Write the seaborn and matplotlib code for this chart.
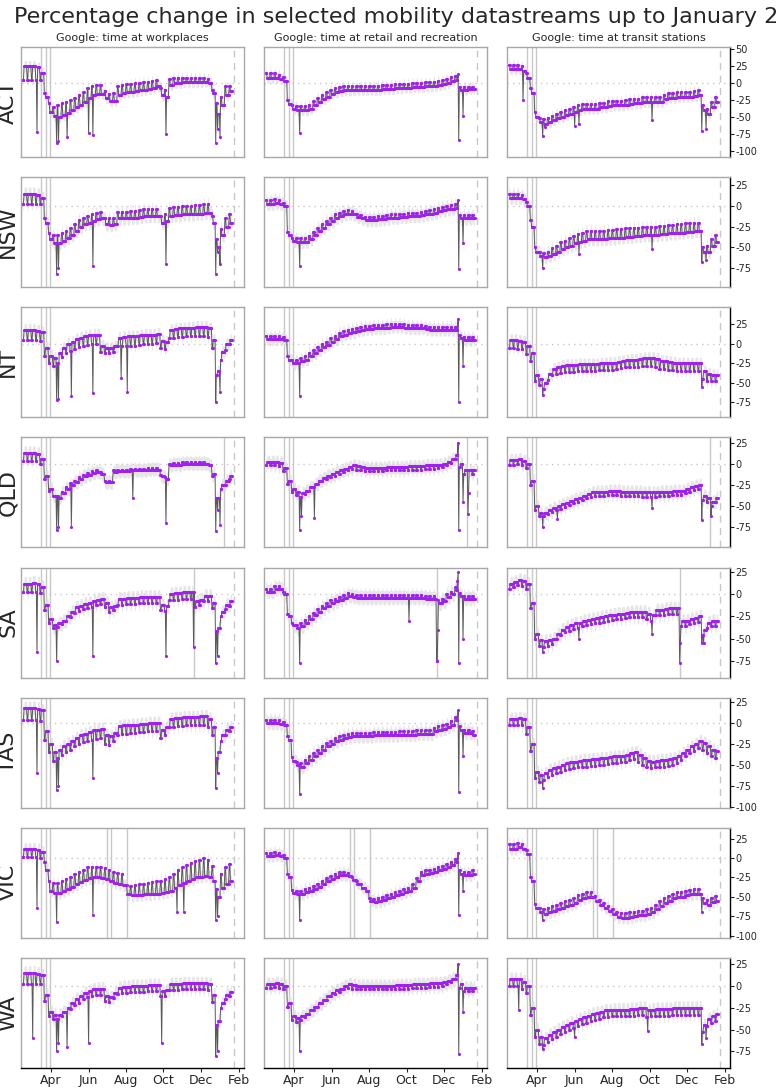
import pandas as pd
import seaborn as sns
import matplotlib.pyplot as plt
import matplotlib.dates as mdates
from matplotlib.ticker import MultipleLocator

sns.set_style("white")
plt.rcParams['font.family'] = ['DejaVu Sans']
plt.rcParams['axes.unicode_minus'] = False

states = ["ACT", "NSW", "NT", "QLD", "SA", "TAS", "VIC", "WA"]
streams = ["Google: time at workplaces",
           "Google: time at retail and recreation",
           "Google: time at transit stations"]

first_day = "2020-02-15"
last_day = "2021-01-20"
interventions = ["2020-03-16", "2020-03-24", "2020-03-30"]
extra_lines = {"VIC": ["2020-07-01", "2020-07-08", "2020-08-02"],
               "SA": ["2020-11-19"],
               "QLD": ["2021-01-08"]}
end_line = "2021-01-24"

# weekly levels; week 0 starts Sat 15 Feb 2020
# *_wd = Mon-Fri level, *_we = Sat-Sun level, *_hol = single-day spikes
act_work_wd = [25, 25, 25, 23, 15, -20, -42, -48, -50, -47,
               -44, -40, -36, -32, -28, -22, -18, -16, -16, -22,
               -27, -26, -17, -15, -14, -13, -12, -11, -10, -9,
               -7, -5, -18, -20, -3, 0, 0, 1, 1, 1,
               1, 1, 2, 0, -15, -45, -32, -18, -12]
act_work_we = [5, 5, 5, 5, 5, -15, -30, -35, -33, -30,
               -28, -25, -22, -18, -14, -8, -5, -3, -3, -12,
               -16, -15, -5, -3, -2, -1, 0, 0, 1, 2,
               3, 4, -8, -10, 6, 8, 8, 8, 8, 8,
               8, 8, 8, 6, -10, -30, -20, -5, -5]
act_work_hol = [("2020-03-09", -72), ("2020-04-10", -88), ("2020-04-13", -85),
                ("2020-04-27", -80), ("2020-06-01", -74), ("2020-06-08", -77),
                ("2020-10-05", -75), ("2020-12-25", -88), ("2020-12-28", -68),
                ("2021-01-01", -80)]
act_retail_wd = [8, 8, 8, 6, 3, -31, -38, -40, -40, -40,
                 -38, -33, -28, -24, -20, -16, -14, -12, -11, -11,
                 -11, -10, -10, -10, -10, -10, -10, -9, -9, -9,
                 -8, -8, -7, -7, -6, -6, -6, -5, -5, -4,
                 -3, -2, 0, 3, 5, -10, -10, -9, -9]
act_retail_we = [14, 14, 14, 12, 9, -25, -32, -34, -34, -34,
                 -32, -27, -22, -18, -14, -10, -8, -6, -5, -5,
                 -5, -4, -4, -4, -4, -4, -4, -3, -3, -3,
                 -2, -2, -1, -1, 0, 0, 0, 1, 1, 2,
                 3, 4, 6, 9, 11, -6, -6, -6, -6]
act_retail_hol = [("2020-04-10", -73), ("2020-12-24", 13), ("2020-12-25", -84),
                  ("2021-01-01", -48)]
act_transit_wd = [20, 20, 20, 18, 8, -15, -50, -58, -60, -58,
                  -55, -52, -50, -47, -45, -42, -40, -38, -38, -38,
                  -38, -36, -36, -34, -33, -33, -33, -32, -31, -30,
                  -30, -28, -28, -28, -28, -28, -24, -22, -22, -21,
                  -20, -20, -20, -19, -18, -40, -45, -35, -28]
act_transit_we = [27, 27, 27, 25, 15, -8, -43, -51, -53, -51,
                  -48, -45, -43, -40, -38, -35, -33, -31, -31, -31,
                  -31, -29, -29, -27, -26, -26, -26, -25, -24, -23,
                  -23, -21, -21, -21, -21, -21, -17, -15, -15, -14,
                  -13, -13, -13, -12, -11, -33, -38, -28, -21]
act_transit_hol = [("2020-03-09", -25), ("2020-04-10", -78), ("2020-04-13", -65),
                   ("2020-06-01", -63), ("2020-06-08", -60), ("2020-10-05", -55),
                   ("2020-12-25", -70), ("2021-01-01", -68)]

nsw_work_wd = [15, 15, 15, 14, 10, -20, -40, -45, -45, -42,
               -38, -35, -30, -25, -22, -20, -18, -16, -15, -22,
               -23, -22, -15, -15, -15, -14, -14, -13, -12, -12,
               -12, -12, -20, -18, -12, -11, -11, -10, -10, -10,
               -9, -9, -8, -8, -20, -50, -35, -25, -20]
nsw_work_we = [3, 3, 3, 3, 2, -15, -32, -35, -35, -33,
               -30, -27, -22, -17, -14, -12, -10, -8, -7, -15,
               -15, -14, -7, -7, -7, -6, -6, -5, -4, -4,
               -4, -4, -12, -10, -2, -1, -1, 0, 0, 0,
               1, 1, 2, 2, -12, -40, -28, -15, -10]
nsw_work_hol = [("2020-04-10", -82), ("2020-04-13", -75), ("2020-06-08", -72),
                ("2020-10-05", -70), ("2020-12-25", -82), ("2020-12-28", -55),
                ("2021-01-01", -70)]
nsw_retail_wd = [3, 3, 4, 3, 0, -35, -42, -43, -43, -43,
                 -40, -35, -30, -26, -22, -18, -14, -12, -10, -9,
                 -10, -13, -15, -17, -17, -17, -16, -16, -15, -14,
                 -14, -13, -13, -12, -12, -12, -11, -10, -9, -8,
                 -6, -5, -4, -3, -2, -15, -15, -15, -15]
nsw_retail_we = [7, 7, 8, 7, 4, -31, -38, -39, -39, -39,
                 -36, -31, -26, -22, -18, -14, -10, -8, -6, -5,
                 -6, -9, -11, -13, -13, -13, -12, -12, -11, -10,
                 -10, -9, -9, -8, -8, -8, -7, -6, -5, -4,
                 -2, -1, 0, 1, 2, -11, -11, -11, -11]
nsw_retail_hol = [("2020-04-10", -72), ("2020-12-24", 7), ("2020-12-25", -76),
                  ("2021-01-01", -45)]
nsw_transit_wd = [10, 10, 10, 8, 0, -25, -55, -60, -62, -60,
                  -58, -55, -52, -50, -48, -45, -43, -42, -40, -40,
                  -40, -40, -40, -39, -39, -38, -38, -37, -37, -36,
                  -36, -35, -35, -35, -35, -34, -34, -33, -33, -32,
                  -32, -31, -31, -30, -30, -55, -55, -48, -43]
nsw_transit_we = [15, 15, 15, 13, 5, -17, -50, -55, -57, -55,
                  -51, -48, -44, -42, -39, -36, -34, -32, -30, -30,
                  -30, -30, -30, -29, -29, -28, -28, -27, -27, -26,
                  -26, -25, -25, -25, -25, -24, -24, -23, -23, -22,
                  -22, -21, -21, -20, -20, -50, -48, -40, -35]
nsw_transit_hol = [("2020-04-10", -75), ("2020-06-08", -58), ("2020-10-05", -52),
                   ("2020-12-25", -68), ("2021-01-01", -65)]

nt_work_wd = [18, 18, 18, 17, 15, -5, -15, -18, -12, -5,
              0, 3, 6, 8, 10, 11, 12, 12, -2, -5,
              -5, -3, 8, 9, 10, 10, 10, 11, 12, 12,
              12, 13, 4, 3, 18, 19, 20, 20, 21, 21,
              22, 22, 22, 20, 5, -35, -10, 0, 5]
nt_work_we = [5, 5, 5, 5, 4, -15, -25, -28, -24, -17,
              -12, -9, -6, -4, -2, -1, 0, 0, -10, -12,
              -12, -10, -3, -2, -2, -2, -2, -1, 0, 0,
              0, 1, -5, -6, 8, 8, 9, 9, 10, 10,
              10, 10, 10, 9, -5, -40, -20, -8, 0]
nt_work_hol = [("2020-04-10", -72), ("2020-04-13", -70), ("2020-05-04", -67),
               ("2020-06-08", -63), ("2020-07-24", -43), ("2020-08-03", -61),
               ("2020-12-25", -75), ("2021-01-01", -62)]
nt_retail_wd = [6, 6, 6, 6, 5, -20, -25, -25, -22, -20,
                -15, -12, -8, -4, -1, 3, 6, 10, 12, 14,
                15, 17, 18, 19, 19, 20, 20, 20, 21, 22,
                22, 22, 21, 20, 20, 20, 20, 19, 18, 18,
                18, 18, 18, 18, 18, 8, 5, 5, 5]
nt_retail_we = [10, 10, 10, 10, 9, -16, -21, -21, -18, -16,
                -11, -8, -4, 0, 3, 7, 10, 14, 16, 18,
                19, 21, 22, 23, 23, 24, 24, 24, 25, 26,
                26, 26, 25, 24, 24, 24, 24, 23, 22, 22,
                22, 22, 22, 22, 22, 12, 9, 9, 9]
nt_retail_hol = [("2020-04-10", -67), ("2020-12-24", 32), ("2020-12-25", -75),
                 ("2021-01-01", -28)]
nt_transit_wd = [5, 5, 4, 3, -3, -12, -40, -45, -50, -38,
                 -32, -30, -28, -27, -27, -27, -26, -26, -26, -26,
                 -26, -25, -25, -24, -24, -23, -22, -21, -20, -20,
                 -19, -18, -18, -18, -19, -22, -22, -23, -24, -25,
                 -25, -25, -25, -25, -25, -35, -38, -40, -40]
nt_transit_we = [-5, -5, -6, -7, -13, -22, -48, -53, -58, -46,
                 -40, -38, -37, -36, -36, -36, -35, -35, -35, -35,
                 -35, -34, -34, -33, -33, -32, -31, -30, -30, -30,
                 -29, -28, -28, -28, -29, -32, -32, -33, -34, -35,
                 -35, -35, -35, -35, -35, -45, -47, -48, -48]
nt_transit_hol = [("2020-04-10", -65), ("2020-12-25", -55)]

qld_work_wd = [13, 13, 13, 12, 5, -15, -30, -38, -40, -35,
               -30, -25, -22, -18, -15, -13, -11, -10, -12, -22,
               -22, -10, -9, -9, -9, -8, -8, -8, -8, -7,
               -7, -7, -15, -18, -2, -1, -1, 0, 0, 0,
               0, 0, 0, -2, -12, -40, -25, -20, -15]
qld_work_we = [3, 3, 3, 3, 0, -18, -32, -38, -38, -33,
               -28, -23, -20, -16, -13, -11, -9, -8, -10, -20,
               -20, -8, -7, -7, -7, -6, -6, -6, -6, -5,
               -5, -5, -13, -16, 0, 1, 1, 2, 2, 2,
               2, 2, 2, 0, -15, -40, -30, -25, -18]
qld_work_hol = [("2020-04-10", -78), ("2020-04-13", -75), ("2020-05-04", -75),
                ("2020-08-12", -40), ("2020-10-05", -70), ("2020-12-25", -80),
                ("2020-12-28", -55), ("2021-01-01", -72)]
qld_retail_wd = [2, 2, 2, 1, -5, -20, -30, -33, -35, -32,
                 -28, -24, -20, -17, -14, -12, -10, -8, -6, -4,
                 -2, -3, -4, -5, -5, -5, -5, -5, -4, -4,
                 -4, -4, -4, -3, -3, -3, -3, -2, -2, -2,
                 -1, 0, 2, 5, 10, 0, -8, -8, -8]
qld_retail_we = [-2, -2, -2, -3, -9, -24, -34, -37, -39, -36,
                 -32, -28, -24, -21, -18, -16, -14, -12, -10, -8,
                 -6, -7, -8, -9, -9, -9, -9, -9, -8, -8,
                 -8, -8, -8, -7, -7, -7, -7, -6, -6, -6,
                 -5, -4, -2, 1, 6, -4, -12, -12, -12]
qld_retail_hol = [("2020-04-10", -78), ("2020-04-13", -62), ("2020-05-04", -64),
                  ("2020-12-24", 25), ("2020-12-25", -78), ("2021-01-01", -45),
                  ("2021-01-09", -60), ("2021-01-10", -35)]
qld_transit_wd = [4, 4, 5, 3, 0, -20, -50, -58, -58, -55,
                  -52, -50, -48, -46, -44, -42, -40, -38, -36, -34,
                  -33, -33, -33, -32, -32, -32, -33, -33, -33, -33,
                  -33, -34, -34, -34, -34, -33, -33, -33, -32, -32,
                  -32, -30, -28, -26, -25, -38, -40, -45, -40]
qld_transit_we = [-1, -1, 0, -2, -5, -25, -55, -62, -62, -60,
                  -57, -55, -53, -51, -49, -47, -45, -43, -41, -39,
                  -38, -38, -38, -37, -37, -37, -38, -38, -38, -38,
                  -38, -39, -39, -39, -39, -38, -38, -38, -37, -37,
                  -37, -35, -33, -31, -30, -43, -45, -50, -45]
qld_transit_hol = [("2020-04-10", -75), ("2020-05-04", -65), ("2020-10-05", -52),
                   ("2020-12-25", -67), ("2021-01-09", -62)]

sa_work_wd = [12, 12, 13, 12, 8, -12, -28, -35, -33, -30,
              -25, -20, -15, -13, -11, -10, -8, -6, -5, -10,
              -15, -13, -5, -5, -4, -4, -4, -3, -3, -3,
              -3, -3, -12, -13, 0, 1, 1, 2, 2, 2,
              -8, -6, -2, -2, -10, -38, -20, -12, -8]
sa_work_we = [2, 2, 3, 2, 1, -18, -32, -38, -37, -34,
              -30, -26, -21, -19, -17, -16, -14, -12, -11, -15,
              -20, -18, -12, -12, -11, -11, -11, -10, -10, -10,
              -10, -10, -18, -19, -7, -6, -6, -5, -5, -5,
              -15, -12, -8, -8, -16, -42, -25, -17, -13]
sa_work_hol = [("2020-03-09", -65), ("2020-04-10", -75), ("2020-06-08", -70),
               ("2020-10-05", -70), ("2020-11-19", -60), ("2020-12-25", -78),
               ("2020-12-28", -70)]
sa_retail_wd = [3, 3, 6, 6, 0, -25, -35, -38, -36, -32,
                -28, -24, -20, -16, -13, -10, -8, -6, -4, -2,
                -3, -4, -4, -4, -4, -4, -4, -4, -4, -4,
                -4, -4, -4, -4, -4, -4, -4, -5, -5, -5,
                -10, -8, -3, 0, 5, -2, -5, -5, -5]
sa_retail_we = [6, 6, 9, 9, 3, -22, -32, -35, -33, -29,
                -25, -21, -17, -13, -10, -7, -5, -3, -1, 1,
                0, -1, -1, -1, -1, -1, -1, -1, -1, -1,
                -1, -1, -1, -1, -1, -1, -1, -2, -2, -2,
                -7, -5, 0, 3, 8, 1, -2, -2, -2]
sa_retail_hol = [("2020-04-10", -78), ("2020-10-05", -30), ("2020-11-19", -75),
                 ("2020-11-20", -75), ("2020-11-21", -40), ("2020-12-23", 15),
                 ("2020-12-24", 25), ("2020-12-25", -78), ("2021-01-01", -50)]
sa_transit_wd = [12, 14, 16, 15, 12, -10, -45, -52, -53, -52,
                 -50, -45, -40, -37, -35, -33, -32, -30, -29, -28,
                 -27, -26, -25, -24, -23, -22, -22, -21, -20, -20,
                 -20, -20, -22, -24, -18, -18, -17, -16, -16, -16,
                 -30, -30, -28, -27, -25, -40, -32, -30, -30]
sa_transit_we = [6, 8, 10, 9, 6, -16, -51, -58, -59, -58,
                 -56, -51, -46, -43, -41, -39, -38, -36, -35, -34,
                 -33, -32, -31, -30, -29, -28, -28, -27, -26, -26,
                 -26, -26, -28, -30, -24, -24, -23, -22, -22, -22,
                 -36, -36, -34, -33, -31, -46, -38, -36, -36]
sa_transit_hol = [("2020-04-10", -65), ("2020-06-08", -50), ("2020-10-05", -45),
                  ("2020-11-19", -78), ("2020-11-20", -55), ("2020-12-25", -55),
                  ("2020-12-28", -55)]

tas_work_wd = [18, 18, 18, 17, 15, -10, -25, -35, -32, -28,
               -25, -22, -18, -15, -13, -11, -9, -8, -7, -15,
               -16, -12, -4, -3, -3, -2, -2, -1, -1, 0,
               0, 0, -8, -5, 5, 6, 6, 7, 7, 7,
               7, 8, 8, 5, -5, -35, -15, -8, -5]
tas_work_we = [3, 3, 3, 3, 2, -20, -35, -45, -42, -38,
               -35, -32, -28, -25, -23, -21, -20, -19, -18, -25,
               -26, -22, -14, -13, -13, -12, -12, -11, -11, -10,
               -10, -10, -18, -15, -5, -5, -4, -4, -3, -3,
               -3, -3, -2, -5, -15, -42, -22, -15, -10]
tas_work_hol = [("2020-03-09", -60), ("2020-04-10", -80), ("2020-04-13", -75),
                ("2020-06-08", -66), ("2020-12-25", -78), ("2020-12-28", -60)]
tas_retail_wd = [0, 0, 0, -1, -3, -20, -45, -50, -52, -48,
                 -44, -40, -36, -32, -28, -25, -22, -20, -18, -17,
                 -16, -16, -16, -16, -16, -15, -15, -15, -15, -15,
                 -15, -14, -14, -14, -14, -13, -13, -13, -13, -10,
                 -8, -7, -5, -2, 3, -8, -12, -12, -14]
tas_retail_we = [4, 4, 4, 3, 1, -16, -41, -46, -48, -44,
                 -40, -36, -32, -28, -24, -21, -18, -16, -14, -13,
                 -12, -12, -12, -12, -12, -11, -11, -11, -11, -11,
                 -11, -10, -10, -10, -10, -9, -9, -9, -9, -6,
                 -4, -3, -1, 2, 7, -4, -8, -8, -10]
tas_retail_hol = [("2020-04-10", -85), ("2020-12-24", 15), ("2020-12-25", -82),
                  ("2021-01-01", -40)]
tas_transit_wd = [5, 5, 6, 5, -5, -25, -58, -62, -60, -56,
                  -54, -52, -50, -48, -47, -46, -45, -44, -44, -43,
                  -43, -42, -42, -41, -40, -40, -39, -38, -36, -35,
                  -38, -42, -45, -46, -45, -44, -44, -43, -42, -40,
                  -36, -32, -28, -25, -22, -24, -28, -32, -34]
tas_transit_we = [-3, -3, -2, -3, -13, -33, -66, -70, -68, -64,
                  -62, -60, -58, -56, -55, -54, -53, -52, -52, -51,
                  -51, -50, -50, -49, -48, -48, -47, -46, -44, -43,
                  -46, -50, -53, -54, -53, -52, -52, -51, -50, -48,
                  -44, -40, -36, -33, -30, -32, -36, -40, -42]
tas_transit_hol = [("2020-04-10", -78)]

vic_work_wd = [12, 12, 12, 11, 8, -15, -42, -45, -45, -43,
               -40, -37, -34, -31, -28, -26, -25, -25, -26, -27,
               -30, -32, -33, -35, -47, -48, -48, -48, -47, -47,
               -46, -46, -45, -44, -42, -38, -35, -32, -29, -27,
               -25, -24, -23, -24, -30, -50, -38, -33, -30]
vic_work_we = [2, 2, 2, 2, 0, -5, -30, -32, -32, -30,
               -27, -24, -21, -18, -15, -12, -11, -11, -12, -13,
               -16, -18, -19, -21, -35, -36, -35, -34, -33, -32,
               -31, -30, -29, -27, -24, -20, -16, -12, -9, -6,
               -4, -2, 0, -2, -10, -40, -20, -12, -8]
vic_work_hol = [("2020-03-09", -65), ("2020-04-10", -83), ("2020-06-08", -73),
                ("2020-10-23", -70), ("2020-11-03", -70), ("2020-12-25", -80),
                ("2020-12-28", -75)]
vic_retail_wd = [3, 3, 4, 3, 0, -25, -45, -47, -46, -44,
                 -42, -40, -37, -34, -30, -27, -24, -22, -22, -23,
                 -28, -33, -38, -42, -55, -57, -56, -54, -52, -50,
                 -48, -46, -44, -42, -38, -30, -22, -20, -19, -18,
                 -16, -14, -12, -9, -5, -20, -22, -22, -20]
vic_retail_we = [7, 7, 8, 7, 4, -21, -41, -43, -42, -40,
                 -38, -36, -33, -30, -26, -23, -20, -18, -18, -19,
                 -24, -29, -34, -38, -51, -53, -52, -50, -48, -46,
                 -44, -42, -40, -38, -34, -26, -18, -16, -15, -14,
                 -12, -10, -8, -5, -1, -16, -18, -18, -16]
vic_retail_hol = [("2020-04-10", -80), ("2020-12-24", 7), ("2020-12-25", -74),
                  ("2021-01-01", -43)]
vic_transit_wd = [12, 12, 14, 12, 5, -30, -65, -70, -72, -70,
                  -68, -66, -64, -62, -60, -58, -54, -52, -50, -50,
                  -55, -60, -64, -68, -72, -76, -77, -77, -76, -75,
                  -74, -74, -72, -70, -66, -62, -58, -55, -52, -50,
                  -50, -48, -47, -46, -46, -58, -60, -57, -55]
vic_transit_we = [18, 18, 20, 18, 11, -24, -59, -64, -66, -64,
                  -62, -60, -58, -56, -54, -52, -48, -46, -44, -44,
                  -49, -54, -58, -62, -66, -70, -71, -71, -70, -69,
                  -68, -68, -66, -64, -60, -56, -52, -49, -46, -44,
                  -44, -42, -41, -40, -40, -52, -54, -51, -49]
vic_transit_hol = [("2020-04-10", -80), ("2020-12-25", -70)]

wa_work_wd = [15, 15, 15, 14, 12, -10, -30, -33, -33, -30,
              -25, -20, -15, -12, -8, -6, -4, -3, -3, -12,
              -13, -8, -2, -1, -1, 0, 0, 0, 0, 1,
              1, 1, -6, -5, 2, 2, 2, 3, 3, 3,
              3, 3, 3, 2, -10, -40, -20, -10, -7]
wa_work_we = [2, 2, 2, 2, 2, -17, -35, -38, -38, -35,
              -30, -26, -22, -19, -15, -13, -11, -10, -10, -17,
              -18, -14, -9, -8, -8, -7, -7, -7, -7, -6,
              -6, -6, -12, -11, -5, -5, -5, -4, -4, -4,
              -4, -4, -4, -5, -18, -45, -25, -15, -12]
wa_work_hol = [("2020-03-02", -60), ("2020-04-10", -75), ("2020-04-13", -65),
               ("2020-04-27", -70), ("2020-06-01", -65), ("2020-09-28", -65),
               ("2020-12-25", -80), ("2020-12-28", -75)]
wa_retail_wd = [2, 2, 3, 2, 0, -20, -35, -37, -35, -32,
                -28, -24, -20, -16, -12, -8, -5, -3, 0, 2,
                1, 0, 0, 0, 0, 0, 0, 0, 0, 0,
                1, 1, 1, 1, 2, 2, 2, 2, 3, 3,
                3, 4, 6, 8, 12, 2, -2, -2, -2]
wa_retail_we = [-2, -2, -1, -2, -4, -24, -39, -41, -39, -36,
                -32, -28, -24, -20, -16, -12, -9, -7, -4, -2,
                -3, -4, -4, -4, -4, -4, -4, -4, -4, -4,
                -3, -3, -3, -3, -2, -2, -2, -2, -1, -1,
                -1, 0, 2, 4, 8, -2, -6, -6, -6]
wa_retail_hol = [("2020-04-10", -75), ("2020-12-24", 25), ("2020-12-25", -78),
                 ("2021-01-01", -30)]
wa_transit_wd = [8, 8, 8, 5, 0, -25, -50, -58, -60, -56,
                 -53, -50, -47, -45, -42, -40, -38, -36, -34, -32,
                 -31, -30, -28, -28, -27, -27, -27, -27, -26, -26,
                 -25, -25, -28, -27, -26, -26, -26, -26, -25, -25,
                 -25, -25, -25, -25, -25, -45, -38, -35, -32]
wa_transit_we = [0, 0, 0, -3, -8, -33, -58, -66, -68, -64,
                 -61, -58, -55, -53, -50, -48, -46, -44, -42, -40,
                 -39, -38, -36, -36, -35, -35, -35, -35, -34, -34,
                 -33, -33, -36, -35, -34, -34, -34, -34, -33, -33,
                 -33, -33, -33, -33, -33, -53, -46, -43, -40]
wa_transit_hol = [("2020-03-02", -28), ("2020-04-10", -72), ("2020-06-01", -58),
                  ("2020-09-28", -52), ("2020-12-25", -66), ("2021-01-01", -60)]

panels = {
    "ACT": [(act_work_wd, act_work_we, act_work_hol),
            (act_retail_wd, act_retail_we, act_retail_hol),
            (act_transit_wd, act_transit_we, act_transit_hol)],
    "NSW": [(nsw_work_wd, nsw_work_we, nsw_work_hol),
            (nsw_retail_wd, nsw_retail_we, nsw_retail_hol),
            (nsw_transit_wd, nsw_transit_we, nsw_transit_hol)],
    "NT": [(nt_work_wd, nt_work_we, nt_work_hol),
           (nt_retail_wd, nt_retail_we, nt_retail_hol),
           (nt_transit_wd, nt_transit_we, nt_transit_hol)],
    "QLD": [(qld_work_wd, qld_work_we, qld_work_hol),
            (qld_retail_wd, qld_retail_we, qld_retail_hol),
            (qld_transit_wd, qld_transit_we, qld_transit_hol)],
    "SA": [(sa_work_wd, sa_work_we, sa_work_hol),
           (sa_retail_wd, sa_retail_we, sa_retail_hol),
           (sa_transit_wd, sa_transit_we, sa_transit_hol)],
    "TAS": [(tas_work_wd, tas_work_we, tas_work_hol),
            (tas_retail_wd, tas_retail_we, tas_retail_hol),
            (tas_transit_wd, tas_transit_we, tas_transit_hol)],
    "VIC": [(vic_work_wd, vic_work_we, vic_work_hol),
            (vic_retail_wd, vic_retail_we, vic_retail_hol),
            (vic_transit_wd, vic_transit_we, vic_transit_hol)],
    "WA": [(wa_work_wd, wa_work_we, wa_work_hol),
           (wa_retail_wd, wa_retail_we, wa_retail_hol),
           (wa_transit_wd, wa_transit_we, wa_transit_hol)],
}

row_ylim = {"ACT": (-109, 53), "NSW": (-98, 35), "NT": (-94, 47), "QLD": (-99, 31),
            "SA": (-94, 30), "TAS": (-101, 30), "VIC": (-103, 39), "WA": (-94, 32)}


def daily(wd, we, hol):
    dates = pd.date_range(first_day, last_day)
    vals = []
    for i in range(len(dates)):
        w = i // 7
        vals.append(we[w] if i % 7 < 2 else wd[w])  # first two days = Sat, Sun
    s = pd.Series(vals, index=dates, dtype=float)
    for d, v in hol:
        s[pd.Timestamp(d)] = v
    return s


fig, axes = plt.subplots(8, 3, figsize=(7.79, 10.88), dpi=100, sharex=True, sharey='row')
plt.subplots_adjust(left=21 / 779, right=730 / 779, top=1 - 47 / 1088,
                    bottom=1 - 1068 / 1088, wspace=0.09, hspace=0.183)

for r, st in enumerate(states):
    for c in range(3):
        ax = axes[r, c]
        wd, we, hol = panels[st][c]
        s = daily(wd, we, hol)
        d = pd.DataFrame({"date": s.index, "value": s.values})

        for x in interventions + extra_lines.get(st, []):
            ax.axvline(pd.Timestamp(x), color="#c8c8c8", lw=1, zorder=0)
        ax.axvline(pd.Timestamp(end_line), color="#c8c8c8", lw=1, ls=(0, (5, 4)), zorder=0)
        ax.axhline(0, color="#c8c8c8", lw=1, ls=(0, (1, 3)), zorder=0)

        ax.fill_between(d["date"], d["value"] - 8, d["value"] + 8,
                        color="#dcdcdc", alpha=0.7, lw=0, zorder=1)
        sns.lineplot(data=d, x="date", y="value", ax=ax, color="#5a5a5a",
                     lw=0.7, zorder=2)
        sns.scatterplot(data=d, x="date", y="value", ax=ax, color="#a020f0",
                        s=5, linewidth=0, zorder=3)

        ax.set_xlim(pd.Timestamp("2020-02-12"), pd.Timestamp("2021-02-09"))
        ax.set_ylim(*row_ylim[st])
        ax.yaxis.set_major_locator(MultipleLocator(25))
        ax.set_xlabel("")
        ax.set_ylabel("")
        for sp in ax.spines.values():
            sp.set_color("#a8a8a8")
            sp.set_linewidth(1)

        if c == 2:
            ax.yaxis.tick_right()
            ax.tick_params(axis="y", right=True, left=False, labelright=True,
                           labelsize=7, length=3, width=0.8, pad=1)
            ax.spines["right"].set_color("black")
        else:
            ax.tick_params(axis="y", left=False, right=False, labelleft=False)
        if c == 0:
            ax.set_ylabel(st, fontsize=16, labelpad=2)
        if r == 0:
            ax.set_title(streams[c], fontsize=8, pad=4)
        if r == 7:
            ax.tick_params(axis="x", bottom=True, labelsize=9, length=3, width=0.8, pad=1.5)
            ax.spines["bottom"].set_color("black")
        else:
            ax.tick_params(axis="x", bottom=False, labelbottom=False)

ax = axes[7, 0]
ax.xaxis.set_major_locator(mdates.MonthLocator(bymonth=[2, 4, 6, 8, 10, 12]))
ax.xaxis.set_major_formatter(mdates.DateFormatter("%b"))

fig.text(14 / 779, 1 - 17 / 1088,
         "Percentage change in selected mobility datastreams up to January 21 2021",
         fontsize=16, ha="left", va="center")

plt.savefig("out.png", dpi=100)
